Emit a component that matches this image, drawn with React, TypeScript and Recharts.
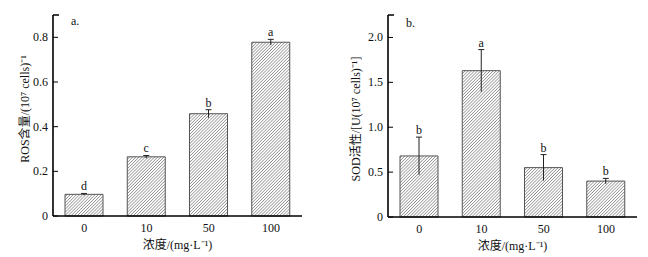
import React from 'react';
import { BarChart, Bar, XAxis, YAxis, LabelList, Label, ReferenceLine } from 'recharts';

const categories = ['0', '10', '50', '100'];
const rosValues = [0.097, 0.265, 0.458, 0.778];
const rosErrors = [0.004, 0.006, 0.018, 0.013];
const rosLetters = ['d', 'c', 'b', 'a'];
const sodValues = [0.68, 1.63, 0.55, 0.4];
const sodErrors = [0.21, 0.235, 0.145, 0.03];
const sodLetters = ['b', 'a', 'b', 'b'];
const rosTicks = [0, 0.2, 0.4, 0.6, 0.8, 0.9];
const sodTicks = [0, 0.5, 1.0, 1.5, 2.0, 2.25];

const FONT = '"Liberation Serif", "Times New Roman", "Noto Sans CJK SC", serif';

const rosData = categories.map((c, i) => ({ c, v: rosValues[i], e: rosErrors[i], l: rosLetters[i], idx: i }));
const sodData = categories.map((c, i) => ({ c, v: sodValues[i], e: sodErrors[i], l: sodLetters[i], idx: i }));

const makeYTick = (top: number) => (props: any) => {
  const { x, y, payload } = props;
  const v = payload.value;
  if (v === top) {
    return <line x1={x} x2={x + 6} y1={y} y2={y} stroke="#000" strokeWidth={1.5} />;
  }
  return (
    <g>
      <line x1={x} x2={x + 5} y1={y} y2={y} stroke="#000" strokeWidth={1} />
      <text x={x - 5} y={y} dy={4} textAnchor="end" fontSize={12} fontFamily={FONT} fill="#111">
        {v === 0 ? '0' : v.toFixed(1)}
      </text>
    </g>
  );
};

const XTick = (props: any) => {
  const { x, y, payload } = props;
  return (
    <text x={x} y={y + 16} textAnchor="middle" fontSize={12} fontFamily={FONT} fill="#111">
      {payload.value}
    </text>
  );
};

const makeErrLabel = (data: any[]) => (props: any) => {
  const vb = props.viewBox || props;
  const { x, y, width, height } = vb;
  const idx = props.index;
  const d = data[idx];
  if (!d) return null;
  const ppu = height / d.v;
  const eh = d.e * ppu;
  const cx = x + width / 2;
  const top = y - eh;
  const bot = y + eh;
  return (
    <g>
      <line x1={cx} x2={cx} y1={top} y2={bot} stroke="#222" strokeWidth={1} />
      <line x1={cx - 3} x2={cx + 3} y1={top} y2={top} stroke="#222" strokeWidth={1} />
      <text x={cx} y={top - 3} textAnchor="middle" fontSize={12} fontFamily={FONT} fill="#111">
        {d.l}
      </text>
    </g>
  );
};

const Hatch = ({ id }: { id: string }) => (
  <defs>
    <pattern id={id} patternUnits="userSpaceOnUse" width={2.2} height={2.2} patternTransform="rotate(45)">
      <rect x={0} y={0} width={2.2} height={2.2} fill="#fff" />
      <line x1={0} y1={0} x2={0} y2={2.2} stroke="#4a4a4a" strokeWidth={0.9} />
    </pattern>
  </defs>
);

const yLabel = (text: string, cx: number, cy: number, panel: string, px: number, py: number) => (props: any) => (
  <g>
    <text
      x={cx}
      y={cy}
      dy="0.35em"
      transform={`rotate(-90 ${cx} ${cy})`}
      textAnchor="middle"
      fontSize={12}
      fontFamily={FONT}
      fill="#111"
    >
      {text}
    </text>
    <text x={px} y={py} fontSize={12} fontFamily={FONT} fill="#111">
      {panel}
    </text>
  </g>
);

const xLabel = (props: any) => {
  const vb = props.viewBox || {};
  return (
    <text x={vb.x + vb.width / 2} y={vb.y + 33} textAnchor="middle" fontSize={12} fontFamily={FONT} fill="#111">
      浓度/(mg·L⁻¹)
    </text>
  );
};

export default function App() {
  return (
    <div style={{ position: 'absolute', left: 0, top: 0, width: 648, height: 257, background: '#fff', display: 'flex' }}>
      <BarChart width={324} height={257} data={rosData} margin={{ top: 15, right: 22, bottom: 0, left: 0 }}>
        <Hatch id="hatchA" />
        <XAxis
          dataKey="c"
          height={41}
          tickLine={false}
          tickSize={0}
          tickMargin={0}
          tick={XTick}
          axisLine={{ stroke: '#000', strokeWidth: 1.6 }}
        >
          <Label content={xLabel} />
        </XAxis>
        <XAxis xAxisId="n" type="number" domain={[0, 4]} hide />
        <YAxis
          width={53}
          domain={[0, 0.9]}
          ticks={rosTicks}
          interval={0}
          tickLine={false}
          tickSize={0}
          tickMargin={0}
          tick={makeYTick(0.9)}
          axisLine={{ stroke: '#000', strokeWidth: 1.6 }}
        >
          <Label content={yLabel('ROS含量/(10⁷ cells)⁻¹', 25, 109, 'a.', 71, 25)} />
        </YAxis>
        <ReferenceLine
          xAxisId="n"
          segment={[{ x: 4, y: 0 }, { x: 4, y: 0.036 }]}
          stroke="#000"
          strokeWidth={1.6}
        />
        <Bar dataKey="v" barSize={38} fill="url(#hatchA)" stroke="#555" strokeWidth={1} isAnimationActive={false}>
          <LabelList dataKey="v" content={makeErrLabel(rosData)} />
        </Bar>
      </BarChart>
      <BarChart width={324} height={257} data={sodData} margin={{ top: 15, right: 11, bottom: 0, left: 0 }}>
        <Hatch id="hatchB" />
        <XAxis
          dataKey="c"
          height={40}
          tickLine={false}
          tickSize={0}
          tickMargin={0}
          tick={XTick}
          axisLine={{ stroke: '#000', strokeWidth: 1.6 }}
        >
          <Label content={xLabel} />
        </XAxis>
        <XAxis xAxisId="n" type="number" domain={[0, 4]} hide />
        <YAxis
          width={64}
          domain={[0, 2.25]}
          ticks={sodTicks}
          interval={0}
          tickLine={false}
          tickSize={0}
          tickMargin={0}
          tick={makeYTick(2.25)}
          axisLine={{ stroke: '#000', strokeWidth: 1.6 }}
        >
          <Label content={yLabel('SOD活性/[U(10⁷ cells)⁻¹]', 32, 119, 'b.', 82, 27)} />
        </YAxis>
        <ReferenceLine
          xAxisId="n"
          segment={[{ x: 4, y: 0 }, { x: 4, y: 0.09 }]}
          stroke="#000"
          strokeWidth={1.6}
        />
        <Bar dataKey="v" barSize={38} fill="url(#hatchB)" stroke="#555" strokeWidth={1} isAnimationActive={false}>
          <LabelList dataKey="v" content={makeErrLabel(sodData)} />
        </Bar>
      </BarChart>
    </div>
  );
}
